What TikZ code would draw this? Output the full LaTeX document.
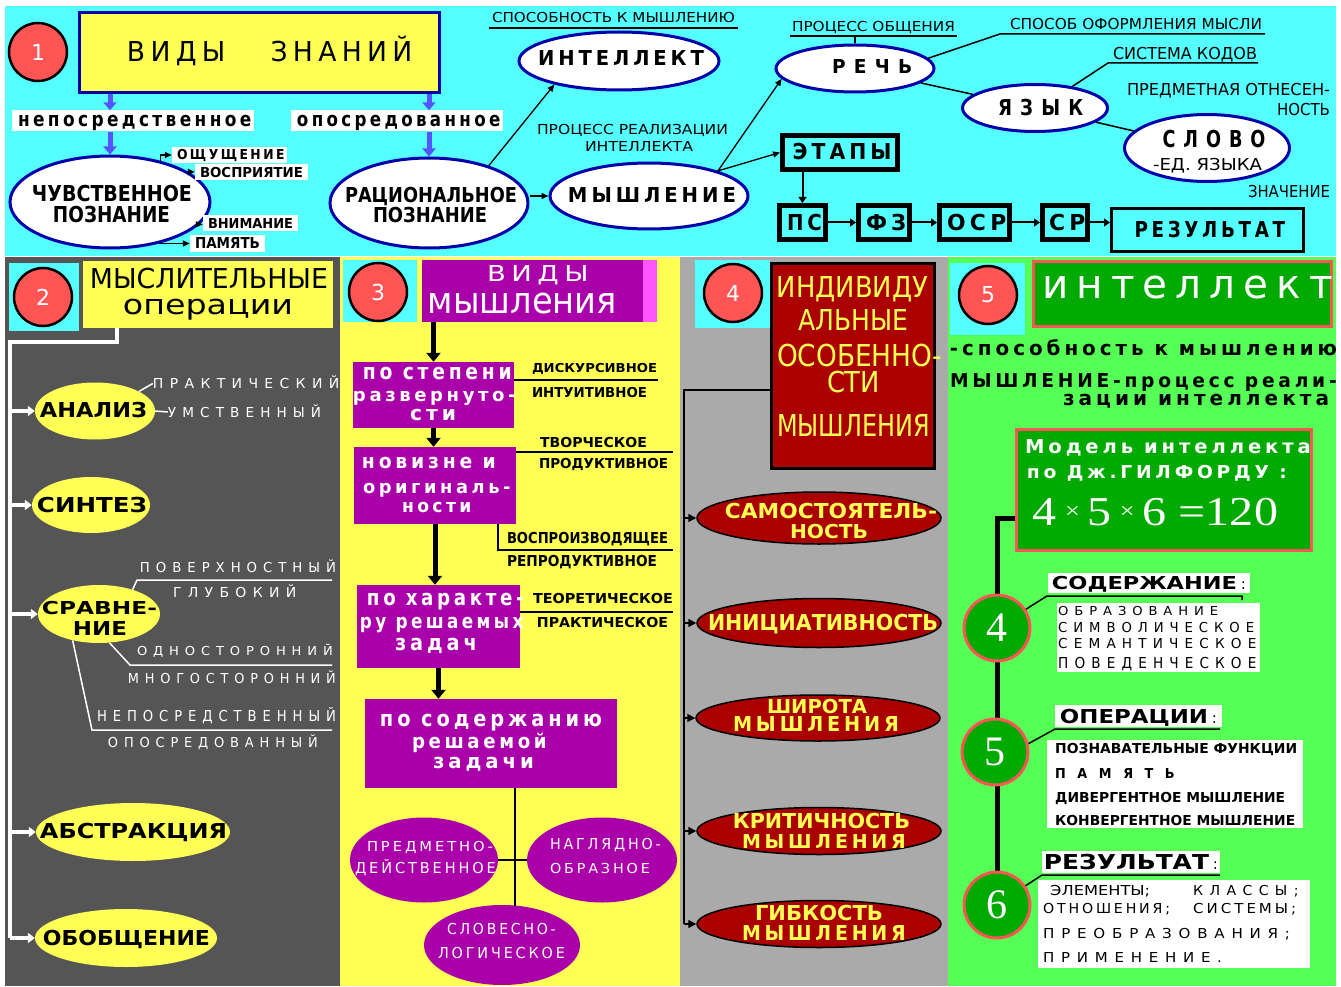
\documentclass[tikz,border=0pt]{standalone}
\usepackage{graphicx}
\usepackage{fontspec}
\setmainfont{DejaVu Sans}
\newfontfamily\spAf[LetterSpace=20]{DejaVu Sans}
\newfontfamily\spBf[LetterSpace=45]{DejaVu Sans}
\newfontfamily\spCf[LetterSpace=90]{DejaVu Sans}
\newfontfamily\serf{Liberation Serif}
\usetikzlibrary{shapes.geometric,arrows.meta}
\pgfdeclarelayer{bg}
\pgfdeclarelayer{lines}
\pgfsetlayers{bg,lines,main}
\definecolor{cy}{HTML}{55FFFF}
\definecolor{ye}{HTML}{FFFF55}
\definecolor{rd}{HTML}{FF5555}
\definecolor{navy}{HTML}{0000AA}
\definecolor{barrc}{HTML}{5555FF}
\definecolor{mag}{HTML}{AA00AA}
\definecolor{lmag}{HTML}{FF55FF}
\definecolor{dred}{HTML}{AA0000}
\definecolor{dg}{HTML}{555555}
\definecolor{lg}{HTML}{AAAAAA}
\definecolor{lgr}{HTML}{55FF55}
\definecolor{gr}{HTML}{00AA00}
\def\trail{}
\newcommand\sA{\spAf\def\trail{\kern-0.2em}}
\newcommand\sB{\spBf\def\trail{\kern-0.45em}}
\newcommand\sC{\spCf\def\trail{\kern-0.9em}}
\newcommand\fitG[5]{\resizebox{#1pt}{#2pt}{#3\smash{#5\trail}\vphantom{#4}}}
\newcommand\fitC[3]{\fitG{#1}{#2}{}{Н}{#3}}
\newcommand\fitL[3]{\fitG{#1}{#2}{}{н}{#3}}
\newcommand\smx{\raisebox{0.15em}{\scalebox{0.55}{×}}}
\begin{document}
\begin{tikzpicture}[x=1pt,y=-1pt,
  txt/.style={inner sep=0pt,anchor=center},
  txtw/.style={inner sep=0pt,anchor=west},
  ellW/.style={ellipse,draw=navy,line width=3pt,fill=white,inner sep=0pt},
  ellY/.style={ellipse,fill=ye,inner sep=0pt},
  ellM/.style={ellipse,fill=mag,inner sep=0pt},
  ellR/.style={ellipse,fill=dred,draw=black,line width=1.5pt,inner sep=0pt},
  numc/.style={circle,fill=rd,draw=black,line width=2.5pt,minimum size=58pt,inner sep=0pt,text=white,font=\fontsize{22}{22}\selectfont},
  gc/.style={circle,fill=gr,draw=rd,line width=3pt,minimum size=66pt,inner sep=0pt,text=white,font=\serf\fontsize{42}{42}\selectfont},
  cysq/.style={rectangle,fill=cy,inner sep=0pt},
  kbox/.style={rectangle,draw=black,line width=5pt,fill=cy,inner sep=0pt},
  magbox/.style={rectangle,fill=mag,inner sep=0pt},
  wbox/.style={rectangle,fill=white,inner sep=0pt},
  wlab/.style={fill=white,inner xsep=6pt,inner ysep=5pt},
  slab/.style={fill=white,inner xsep=5pt,inner ysep=3pt},
  barr/.style={draw=barrc,line width=5pt,-{Triangle[length=8pt,width=13pt]}},
  tarr/.style={draw=black,line width=1.3pt,-{Triangle[length=7pt,width=6pt]}},
  bxarr/.style={draw=black,line width=2pt,-{Triangle[length=6pt,width=8pt]}},
  karr/.style={draw=black,line width=5pt,-{Triangle[length=9pt,width=14pt]}},
  warr/.style={draw=white,line width=4pt,-{Triangle[length=7pt,width=10pt]}},
  wln/.style={draw=white,line width=4pt},
  wthin/.style={draw=white,line width=1.5pt},
  kln/.style={draw=black,line width=1.5pt},
  k4arr/.style={draw=black,line width=1.5pt,-{Triangle[length=8pt,width=8pt]}},
]
\begin{pgfonlayer}{bg}
\fill[white] (0,0) rectangle (1341,987);
\fill[cy] (5,6) rectangle (1336,256);
\fill[dg] (5,257) rectangle (340,986);
\fill[ye] (340,257) rectangle (680,986);
\fill[lg] (680,257) rectangle (948,986);
\fill[lgr] (948,257) rectangle (1336,986);
\end{pgfonlayer}
\useasboundingbox (0,0) rectangle (1341,987);

% ================= PANEL 1 =================
\node[numc] (n1) at (38,52) {1};
\node[rectangle,fill=ye,draw=navy,line width=3pt,minimum width=360pt,minimum height=80pt] (vz) at (259.5,52.5) {};
\node[txt,font=\sA] (vzT) at (267,52) {\fitC{280}{20}{ВИДЫ\hspace{1.7em}ЗНАНИЙ}};

\node[ellW,minimum width=200pt,minimum height=92pt] (chuv) at (110,202) {};
\node[txt,font=\bfseries] (chuvT1) at (112,193) {\fitC{160}{16}{ЧУВСТВЕННОЕ}};
\node[txt,font=\bfseries] (chuvT2) at (111.5,214) {\fitC{117}{16}{ПОЗНАНИЕ}};
\node[wlab,font=\sA\bfseries] (nep) at (133,121) {\fitL{230}{11}{непосредственное}};

\node[ellW,minimum width=198pt,minimum height=90pt] (rac) at (429,203) {};
\node[txt,font=\bfseries] (racT1) at (431,195) {\fitC{172}{15}{РАЦИОНАЛЬНОЕ}};
\node[txt,font=\bfseries] (racT2) at (430,215) {\fitC{114}{15}{ПОЗНАНИЕ}};
\node[wlab,font=\sA\bfseries] (opo) at (397,121) {\fitL{200}{11}{опосредованное}};

\draw[barr] (vz.south -| chuv.north) -- (nep.north -| chuv.north);
\draw[barr] (nep.south -| chuv.north) -- (chuv.north);
\draw[barr] (vz.south -| rac.north) -- (opo.north -| rac.north);
\draw[barr] (opo.south -| rac.north) -- (rac.north);

\node[slab,font=\sA\bfseries] (osh) at (229.5,155) {\fitC{105}{10}{ОЩУЩЕНИЕ}};
\node[slab,font=\bfseries] (vos) at (251.5,172.5) {\fitC{103}{10}{ВОСПРИЯТИЕ}};
\node[slab,font=\bfseries] (vni) at (250.5,223) {\fitC{85}{10}{ВНИМАНИЕ}};
\node[slab,font=\bfseries] (pam) at (227.5,243) {\fitC{65}{11}{ПАМЯТЬ}};
\draw[tarr] (chuv.39) |- (osh.west);
\draw[tarr] (chuv.21) -- (chuv.21 -| vos.west);
\draw[tarr] (chuv.-14) -- (chuv.-14 -| vni.west);
\draw[tarr] (chuv.-40) -- (chuv.-40 -| pam.west);

\node[ellW,minimum width=198pt,minimum height=66pt] (myh) at (649,196) {};
\node[txt,font=\sA\bfseries] (myhT) at (650,195.5) {\fitC{164}{15}{МЫШЛЕНИЕ}};
\node[ellW,minimum width=200pt,minimum height=58pt] (intl) at (619,61) {};
\node[txt,font=\sA\bfseries] (intlT) at (619,58.5) {\fitC{162}{15}{ИНТЕЛЛЕКТ}};
\node[txt] (spos) at (613.5,18) {\fitC{243}{10}{СПОСОБНОСТЬ К МЫШЛЕНИЮ}};
\draw[kln] ([xshift=-3pt,yshift=-5pt]spos.south west) -- ([xshift=3pt,yshift=-5pt]spos.south east);
\node[txt] (proc1) at (632.5,130) {\fitC{191}{10}{ПРОЦЕСС РЕАЛИЗАЦИИ}};
\node[txt] (proc2) at (639,147) {\fitC{108}{10}{ИНТЕЛЛЕКТА}};

\draw[tarr] (rac.east |- myh.west) -- (myh.west);
\draw[tarr] (rac.32) -- (intl.200);

\node[ellW,minimum width=158pt,minimum height=47pt] (rech) at (855,68.5) {};
\node[txt,font=\sB\bfseries] (rechT) at (868,67) {\fitC{72}{14}{РЕЧЬ}};
\node[txt] (pob) at (873.5,27) {\fitC{163}{10}{ПРОЦЕСС ОБЩЕНИЯ}};
\coordinate (pobA) at (790,36);
\coordinate (pobB) at (957,36);
\draw[kln] (pobA) -- (pobB);
\draw[kln] (rech.north |- pobA) -- (rech.north);
\node[txt] (sof) at (1136,24) {\fitC{252}{11}{СПОСОБ ОФОРМЛЕНИЯ МЫСЛИ}};
\coordinate (sofA) at (1000,34);
\coordinate (sofB) at (1265,34);
\draw[kln] (rech.8) -- (sofA) -- (sofB);

\node[ellW,minimum width=145pt,minimum height=47pt] (yaz) at (1035,108) {};
\node[txt,font=\sB\bfseries] (yazT) at (1036.5,108) {\fitC{77}{16}{ЯЗЫК}};
\draw[kln] (rech) -- (yaz);
\node[txt] (sis) at (1185,54) {\fitC{144}{12}{СИСТЕМА КОДОВ}};
\coordinate (sisA) at (1108,63);
\coordinate (sisB) at (1258,63);
\draw[kln] (yaz.30) -- (sisA) -- (sisB);
\node[txt] (pred1) at (1228.5,90) {\fitC{203}{12}{ПРЕДМЕТНАЯ ОТНЕСЕН-}};
\node[txt] (pred2) at (1303.5,110) {\fitC{53}{12}{НОСТЬ}};
\node[ellW,minimum width=165pt,minimum height=67pt] (slovo) at (1207,148) {};
\node[txt,font=\sB\bfseries] (slovoT1) at (1210,138.5) {\fitC{95}{17}{СЛОВО}};
\node[txt] (slovoT2) at (1207.5,165) {\fitC{109}{12}{-ЕД. ЯЗЫКА}};
\draw[kln] (yaz) -- (slovo);
\node[txt] (znach) at (1289,192) {\fitC{82}{12}{ЗНАЧЕНИЕ}};

\node[kbox,minimum width=115pt,minimum height=34pt] (etap) at (840,152.5) {};
\node[txt,font=\sA\bfseries] (etapT) at (840,152) {\fitC{95}{16}{ЭТАПЫ}};
\draw[tarr] (myh.20) -- (rech.188);
\draw[tarr] (myh.20) -- (etap.west);

\node[kbox,minimum width=46pt,minimum height=34pt] (ps) at (802.5,222.5) {};
\node[txt,font=\sA\bfseries] (psT) at (802.5,222) {\fitC{31}{16}{ПС}};
\node[kbox,minimum width=51pt,minimum height=34pt] (fz) at (884,222.5) {};
\node[txt,font=\sA\bfseries] (fzT) at (884,222) {\fitC{36}{16}{ФЗ}};
\node[kbox,minimum width=70pt,minimum height=34pt] (osr) at (974.5,222.5) {};
\node[txt,font=\sA\bfseries] (osrT) at (974.5,222) {\fitC{55}{16}{ОСР}};
\node[kbox,minimum width=45pt,minimum height=34pt] (sr) at (1065,222.5) {};
\node[txt,font=\sA\bfseries] (srT) at (1065,222) {\fitC{32}{16}{СР}};
\node[rectangle,draw=black,line width=3pt,fill=cy,minimum width=192pt,minimum height=43pt] (rez) at (1207.5,230) {};
\node[txt,font=\sA\bfseries] (rezT) at (1208,229) {\fitC{147}{16}{РЕЗУЛЬТАТ}};
\draw[bxarr] (etap.south -| ps.north) -- (ps.north);
\draw[bxarr] (ps) -- (fz);
\draw[bxarr] (fz) -- (osr);
\draw[bxarr] (osr) -- (sr);
\draw[bxarr] (sr.east) -- (sr.east -| rez.west);

% ================= PANEL 2 =================
\node[cysq,minimum width=70pt,minimum height=68pt] (sq2) at (44,297) {};
\node[numc] (n2) at (43,297) {2};
\node[rectangle,fill=ye,minimum width=250pt,minimum height=67pt,inner sep=0pt] (mysl) at (208,294.5) {};
\node[txt] (myslT1) at (209,278) {\fitC{238}{20}{МЫСЛИТЕЛЬНЫЕ}};
\node[txt] (myslT2) at (208,306.5) {\fitL{170}{15}{операции}};

\node[ellY,minimum width=120pt,minimum height=57pt] (anal) at (95,411) {};
\node[txt,font=\bfseries] (analT) at (93.5,409.5) {\fitC{107}{15}{АНАЛИЗ}};
\node[ellY,minimum width=118pt,minimum height=56pt] (sint) at (91,505) {};
\node[txt,font=\bfseries] (sintT) at (92,504.5) {\fitC{110}{15}{СИНТЕЗ}};
\node[ellY,minimum width=122pt,minimum height=58pt] (srav) at (99,614) {};
\node[txt,font=\bfseries] (sravT1) at (99.5,607.5) {\fitC{115}{13}{СРАВНЕ-}};
\node[txt,font=\bfseries] (sravT2) at (100,628) {\fitC{54}{14}{НИЕ}};
\node[ellY,minimum width=194pt,minimum height=58pt] (abst) at (133,832) {};
\node[txt,font=\bfseries] (abstT) at (133.5,830.5) {\fitC{187}{15}{АБСТРАКЦИЯ}};
\node[ellY,minimum width=182pt,minimum height=58pt] (obob) at (126,938) {};
\node[txt,font=\bfseries] (obobT) at (126.5,937.5) {\fitC{167}{15}{ОБОБЩЕНИЕ}};

\coordinate (p2a) at (117,342);
\coordinate (p2b) at (10,342);
\draw[wln] (mysl.south -| p2a) -- (p2a) -- (p2b) -- (p2b |- obob.west);
\draw[warr] (p2b |- anal.west) -- (anal.west);
\draw[warr] (p2b |- sint.west) -- (sint.west);
\draw[warr] (p2b |- srav.west) -- (srav.west);
\draw[warr] (p2b |- abst.west) -- (abst.west);
\draw[warr] (p2b |- obob.west) -- (obob.west);

\node[txt,font=\sB,text=white] (prk) at (243,383.5) {\fitC{180}{10}{ПРАКТИЧЕСКИЙ}};
\node[txt,font=\sB,text=white] (umst) at (241.5,412) {\fitC{147}{10}{УМСТВЕННЫЙ}};
\draw[wthin] (anal.24) -- (prk.west);
\draw[wthin] (anal.east) -- (umst.west);
\node[txt,font=\sB,text=white] (pov) at (235,567.5) {\fitC{190}{10}{ПОВЕРХНОСТНЫЙ}};
\node[txt,font=\sB,text=white] (glub) at (231.5,592) {\fitC{117}{10}{ГЛУБОКИЙ}};
\coordinate (pvA) at (137,580);
\coordinate (pvB) at (332,580);
\draw[wthin] (srav.36) -- (pvA) -- (pvB);
\node[txt,font=\sB,text=white] (odn) at (232,651) {\fitC{190}{9}{ОДНОСТОРОННИЙ}};
\node[txt,font=\sB,text=white] (mng) at (229,678) {\fitC{202}{10}{МНОГОСТОРОННИЙ}};
\coordinate (odA) at (130,665);
\coordinate (odB) at (332,665);
\draw[wthin] (srav.-70) -- (odA) -- (odB);
\node[txt,font=\sB,text=white] (nps) at (213.5,715.5) {\fitC{233}{11}{НЕПОСРЕДСТВЕННЫЙ}};
\node[txt,font=\sB,text=white] (ops) at (210,742) {\fitC{204}{10}{ОПОСРЕДОВАННЫЙ}};
\coordinate (npA) at (92,730);
\coordinate (npB) at (332,730);
\draw[wthin] (srav.-135) -- (npA) -- (npB);

% ================= PANEL 3 =================
\node[cysq,minimum width=74pt,minimum height=62pt] (sq3) at (380,291) {};
\node[numc] (n3) at (378,292) {3};
\node[rectangle,fill=lmag,minimum width=14pt,minimum height=62pt,inner sep=0pt] (vmS) at (650,291) {};
\node[magbox,minimum width=221pt,minimum height=62pt] (vm) at (532.5,291) {};
\node[txt,font=\sA,text=white] (vmT1) at (535,273.5) {\fitC{96}{16}{ВИДЫ}};
\node[txt,text=white] (vmT2) at (522.5,303.5) {\fitL{189}{20}{мышления}};

\node[magbox,minimum width=161pt,minimum height=66pt] (b1) at (433.5,395) {};
\node[txt,font=\sA\bfseries,text=white] (b1T1) at (435.5,373.5) {\fitL{145}{12}{по степени}};
\node[txt,font=\sA\bfseries,text=white] (b1T2) at (432.5,396) {\fitL{159}{10}{развернуто-}};
\node[txt,font=\sA\bfseries,text=white] (b1T3) at (431,415) {\fitL{42}{11}{сти}};
\node[magbox,minimum width=162pt,minimum height=77pt] (b2) at (435,485.5) {};
\node[txt,font=\sA\bfseries,text=white] (b2T1) at (427,462.5) {\fitL{130}{11}{новизне и}};
\node[txt,font=\sA\bfseries,text=white] (b2T2) at (435,488) {\fitL{144}{10}{оригиналь-}};
\node[txt,font=\sA\bfseries,text=white] (b2T3) at (435,507) {\fitL{66}{10}{ности}};
\node[magbox,minimum width=163pt,minimum height=83pt] (b3) at (438.5,626.5) {};
\node[txt,font=\sA\bfseries,text=white] (b3T1) at (443.5,599) {\fitL{153}{12}{по характе-}};
\node[txt,font=\sA\bfseries,text=white] (b3T2) at (440,622.5) {\fitL{160}{11}{ру решаемых}};
\node[txt,font=\sA\bfseries,text=white] (b3T3) at (434,644) {\fitL{78}{12}{задач}};
\node[magbox,minimum width=252pt,minimum height=89pt] (b4) at (491,743.5) {};
\node[txt,font=\sA\bfseries,text=white] (b4T1) at (489,720) {\fitL{218}{12}{по содержанию}};
\node[txt,font=\sA\bfseries,text=white] (b4T2) at (477.5,742.5) {\fitL{131}{11}{решаемой}};
\node[txt,font=\sA\bfseries,text=white] (b4T3) at (481.5,762.5) {\fitL{97}{11}{задачи}};

\draw[karr] (vm.south -| b1.north) -- (b1.north);
\draw[karr] (b1.south) -- (b1.south |- b2.north);
\draw[karr] (b2.south) -- (b2.south |- b3.north);
\draw[karr] (b3.south) -- (b3.south |- b4.north);

\coordinate (dkE) at (658,380);
\draw[kln] (b1.east |- dkE) -- (dkE);
\node[txt,font=\bfseries] (disk) at (594.5,367.5) {\fitC{125}{9}{ДИСКУРСИВНОЕ}};
\node[txt,font=\bfseries] (intu) at (589.5,392) {\fitC{115}{10}{ИНТУИТИВНОЕ}};
\coordinate (tvE) at (673,452);
\draw[kln] (b2.east |- tvE) -- (tvE);
\node[txt,font=\bfseries] (tvor) at (593.5,442) {\fitC{107}{10}{ТВОРЧЕСКОЕ}};
\node[txt,font=\bfseries] (prod) at (603.5,463) {\fitC{129}{10}{ПРОДУКТИВНОЕ}};
\coordinate (vpC) at (498,550);
\coordinate (vpE) at (673,550);
\draw[kln] (b2.south -| vpC) -- (vpC) -- (vpE);
\node[txt,font=\bfseries] (vosp) at (587.5,537.5) {\fitC{161}{11}{ВОСПРОИЗВОДЯЩЕЕ}};
\node[txt,font=\bfseries] (repr) at (582,561) {\fitC{150}{11}{РЕПРОДУКТИВНОЕ}};
\coordinate (teE) at (673,612);
\draw[kln] (b3.east |- teE) -- (teE);
\node[txt,font=\bfseries] (teor) at (603,598) {\fitC{140}{10}{ТЕОРЕТИЧЕСКОЕ}};
\node[txt,font=\bfseries] (prak) at (602.5,622) {\fitC{131}{10}{ПРАКТИЧЕСКОЕ}};

\node[ellM,minimum width=148pt,minimum height=85pt] (predm) at (424,860) {};
\node[txt,font=\sA,text=white] (predmT1) at (428.5,846.5) {\fitC{123}{10}{ПРЕДМЕТНО-}};
\node[txt,font=\sA,text=white] (predmT2) at (424,868) {\fitC{138}{11}{ДЕЙСТВЕННОЕ}};
\node[ellM,minimum width=150pt,minimum height=85pt] (nagl) at (602,860) {};
\node[txt,font=\sA,text=white] (naglT1) at (604,844) {\fitC{108}{11}{НАГЛЯДНО-}};
\node[txt,font=\sA,text=white] (naglT2) at (598.5,868) {\fitC{97}{10}{ОБРАЗНОЕ}};
\node[ellM,minimum width=156pt,minimum height=80pt] (slovl) at (502,945) {};
\node[txt,font=\sA,text=white] (slovlT1) at (500,929) {\fitC{106}{11}{СЛОВЕСНО-}};
\node[txt,font=\sA,text=white] (slovlT2) at (500,952.5) {\fitC{124}{11}{ЛОГИЧЕСКОЕ}};
\coordinate (vl) at (515,906);
\draw[kln] (b4.south -| vl) -- (vl);
\draw[kln] (predm.east) -- (nagl.west);

% ================= PANEL 4 =================
\node[cysq,minimum width=75pt,minimum height=68pt] (sq4) at (732.5,294) {};
\node[numc] (n4) at (733,293) {4};
\node[rectangle,fill=dred,draw=black,line width=3pt,minimum width=163pt,minimum height=205pt,inner sep=0pt] (ind) at (853,366) {};
\node[txt,text=ye] (indT1) at (852.5,287) {\fitC{151}{21}{ИНДИВИДУ}};
\node[txt,text=ye] (indT2) at (853,320) {\fitC{110}{21}{АЛЬНЫЕ}};
\node[txt,text=ye] (indT3) at (859.5,355) {\fitC{165}{22}{ОСОБЕННО-}};
\node[txt,text=ye] (indT4) at (853.5,382) {\fitC{53}{21}{СТИ}};
\node[txt,text=ye] (indT5) at (853.5,425) {\fitC{153}{22}{МЫШЛЕНИЯ}};

\node[ellR,minimum width=244pt,minimum height=52pt] (sam) at (819,518) {};
\node[txt,font=\bfseries,text=ye] (samT1) at (831,510.5) {\fitC{212}{15}{САМОСТОЯТЕЛЬ-}};
\node[txt,font=\bfseries,text=ye] (samT2) at (829,531) {\fitC{78}{14}{НОСТЬ}};
\node[ellR,minimum width=244pt,minimum height=49pt] (ini) at (819,623) {};
\node[txt,font=\bfseries,text=ye] (iniT) at (823,622) {\fitC{230}{16}{ИНИЦИАТИВНОСТЬ}};
\node[ellR,minimum width=244pt,minimum height=46pt] (shir) at (818,718) {};
\node[txt,font=\bfseries,text=ye] (shirT1) at (817,706) {\fitC{100}{14}{ШИРОТА}};
\node[txt,font=\sA\bfseries,text=ye] (shirT2) at (814,724) {\fitC{162}{15}{МЫШЛЕНИЯ}};
\node[ellR,minimum width=244pt,minimum height=47pt] (krit) at (819,831) {};
\node[txt,font=\bfseries,text=ye] (kritT1) at (821.5,821) {\fitC{177}{15}{КРИТИЧНОСТЬ}};
\node[txt,font=\sA\bfseries,text=ye] (kritT2) at (822,841) {\fitC{160}{14}{МЫШЛЕНИЯ}};
\node[ellR,minimum width=244pt,minimum height=47pt] (gib) at (819,924) {};
\node[txt,font=\bfseries,text=ye] (gibT1) at (819,913) {\fitC{128}{15}{ГИБКОСТЬ}};
\node[txt,font=\sA\bfseries,text=ye] (gibT2) at (822,933) {\fitC{160}{15}{МЫШЛЕНИЯ}};

\coordinate (p4a) at (684,390);
\draw[kln] (ind.west |- p4a) -- (p4a) -- (p4a |- gib.west);
\draw[k4arr] (p4a |- sam.west) -- (sam.west);
\draw[k4arr] (p4a |- ini.west) -- (ini.west);
\draw[k4arr] (p4a |- shir.west) -- (shir.west);
\draw[k4arr] (p4a |- krit.west) -- (krit.west);
\draw[k4arr] (p4a |- gib.west) -- (gib.west);

% ================= PANEL 5 =================
\node[cysq,minimum width=75pt,minimum height=72pt] (sq5) at (987.5,299) {};
\node[numc] (n5) at (988,295) {5};
\node[rectangle,fill=gr,draw=rd,line width=3pt,minimum width=298pt,minimum height=65pt,inner sep=0pt] (i5) at (1182.5,294) {};
\node[txt,font=\sA,text=white] (i5T) at (1183.5,287.5) {\fitL{283}{22}{интеллект}};
\node[txt,font=\sA\bfseries] (def5) at (1141.5,349.5) {\fitL{383}{11}{-способность к мышлению}};
\node[txt,font=\sA\bfseries] (def6) at (1141.5,380) {\fitC{383}{14}{МЫШЛЕНИЕ-процесс реали-}};
\node[txt,font=\sA\bfseries] (def7) at (1194,399.5) {\fitL{262}{11}{зации интеллекта}};

\node[rectangle,fill=gr,draw=rd,line width=3pt,minimum width=295pt,minimum height=121pt,inner sep=0pt] (mdl) at (1164,490) {};
\node[txt,font=\sA\bfseries,text=white] (mdlT1) at (1166,446) {\fitC{282}{14}{Модель интеллекта}};
\node[txt,font=\sA\bfseries,text=white] (mdlT2) at (1155,471.5) {\fitC{256}{13}{по Дж.ГИЛФОРДУ :}};
\node[txt,text=white] (mdlT3) at (1155.5,511.5) {\fitG{245}{27}{\serf}{4}{4\,\smx\,5\,\smx\,6 =120}};

\node[gc] (g4) at (997,628) {4};
\node[gc] (g5) at (995,752) {5};
\node[gc] (g6) at (997,905) {6};
\coordinate (m5) at (997,518);
\begin{pgfonlayer}{lines}
\draw[line width=5pt] (mdl.west |- m5) -- (m5) -- (g6.center);
\end{pgfonlayer}

\node[wbox,minimum width=202pt,minimum height=20pt,font=\bfseries] (sod) at (1149,583) {\fitC{185}{13}{СОДЕРЖАНИЕ}\kern4pt{\mdseries\fontsize{15}{15}\selectfont:}};
\coordinate (sdA) at (1047,596);
\coordinate (sdB) at (1242,596);
\draw[kln] (g4.33) -- (sdA) -- (sdB) -- ++(0,4);
\node[wbox,minimum width=203pt,minimum height=69pt] (sodB) at (1158.5,637.5) {};
\node[txtw,font=\sB] (s1) at (1058,611) {\fitC{154}{9}{ОБРАЗОВАНИЕ}};
\node[txtw,font=\sB] (s2) at (1058,627) {\fitC{190}{10}{СИМВОЛИЧЕСКОЕ}};
\node[txtw,font=\sB] (s3) at (1058,643) {\fitC{192}{10}{СЕМАНТИЧЕСКОЕ}};
\node[txtw,font=\sB] (s4) at (1058,662.5) {\fitC{192}{11}{ПОВЕДЕНЧЕСКОЕ}};

\node[wbox,minimum width=167pt,minimum height=22pt,font=\bfseries] (opl) at (1138.5,716) {\fitC{148}{14}{ОПЕРАЦИИ}\kern4pt{\mdseries\fontsize{15}{15}\selectfont:}};
\coordinate (opA) at (1055,729);
\coordinate (opB) at (1220,729);
\draw[kln] (g5.14) -- (opA) -- (opB);
\node[wbox,minimum width=256pt,minimum height=88pt] (opBox) at (1175,784) {};
\node[txtw,font=\bfseries] (o1) at (1055,748) {\fitC{242}{10}{ПОЗНАВАТЕЛЬНЫЕ ФУНКЦИИ}};
\node[txtw,font=\sC\bfseries] (o2) at (1055,773) {\fitC{108}{10}{ПАМЯТЬ}};
\node[txtw,font=\bfseries] (o3) at (1055,797) {\fitC{230}{10}{ДИВЕРГЕНТНОЕ МЫШЛЕНИЕ}};
\node[txtw,font=\bfseries] (o4) at (1055,820) {\fitC{240}{10}{КОНВЕРГЕНТНОЕ МЫШЛЕНИЕ}};

\node[wbox,minimum width=178pt,minimum height=22pt,font=\bfseries] (rzl) at (1131,862) {\fitC{165}{15}{РЕЗУЛЬТАТ}\kern4pt{\mdseries\fontsize{15}{15}\selectfont:}};
\coordinate (rzA) at (1042,875);
\coordinate (rzB) at (1220,875);
\draw[kln] (g6.34) -- (rzA) -- (rzB);
\node[wbox,minimum width=272pt,minimum height=88pt] (rzBox) at (1174,924) {};
\node[txtw] (r1) at (1050,890) {\fitC{100}{10}{ЭЛЕМЕНТЫ;}};
\node[txtw,font=\sB] (r2) at (1193,890) {\fitC{99}{10}{КЛАССЫ;}};
\node[txtw,font=\sA] (r3) at (1043,908) {\fitC{124}{10}{ОТНОШЕНИЯ;}};
\node[txtw,font=\sA] (r4) at (1193,908) {\fitC{100}{10}{СИСТЕМЫ;}};
\node[txtw,font=\sB] (r5) at (1043,933) {\fitC{240}{10}{ПРЕОБРАЗОВАНИЯ;}};
\node[txtw,font=\sB] (r6) at (1043,957) {\fitC{172}{10}{ПРИМЕНЕНИЕ.}};
\end{tikzpicture}
\end{document}
